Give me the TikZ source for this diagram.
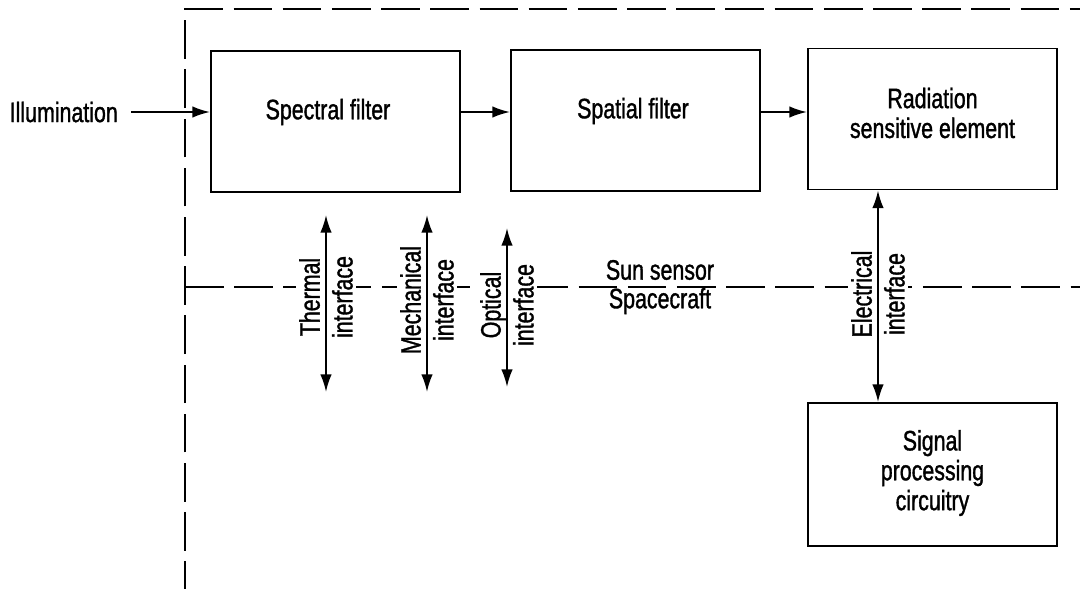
\documentclass[tikz,border=0pt]{standalone}
\usepackage{fontspec}
\setmainfont{Liberation Sans}[FakeStretch=0.76, FakeBold=1.2]
\usetikzlibrary{arrows.meta,positioning,calc}

\begin{document}
\begin{tikzpicture}[x=0.02cm, y=-0.02cm,
  box/.style={rectangle, draw, line width=1.1pt, minimum width=249*0.02cm, minimum height=141*0.02cm, inner sep=0pt},
  txt/.style={align=center, font=\fontsize{16}{17}\selectfont},
  iface/.style={txt, rotate=90, fill=white, inner sep=2pt, font=\fontsize{16}{18.7}\selectfont},
  bound/.style={line width=1.1pt, dash pattern=on 22pt off 6pt},
  arr/.style={-{Latex[length=10pt,width=6.5pt]}, line width=1.1pt},
  dbl/.style={{Latex[length=10pt,width=6.5pt]}-{Latex[length=10pt,width=6.5pt]}, line width=1.1pt}
]
  \useasboundingbox (0,0) rectangle (1080,589);

  % sensor / spacecraft boundary
  \draw[bound] (185,600) -- (185,9) -- (1080,9);
  \draw[bound] (185,287) -- (1080,287);

  % blocks
  \node[box] (spec) at (335.5,121.5) {};
  \node[box] (spat) at (635.5,120.5) {};
  \node[box] (rad) at (932.5,119) {};
  \node[box, minimum height=143*0.02cm] (sig) at (932.5,474.5) {};

  \node[txt] (spectxt) at (328,112) {Spectral filter};
  \node[txt] (spattxt) at (633,111) {Spatial filter};
  \node[txt] (radtxt) at (932.5,113) {Radiation\\sensitive element};
  \node[txt] (sigtxt) at (932.5,473) {Signal\\processing\\circuitry};

  \node[txt, anchor=east] (illum) at (124,112) {Illumination};

  % interfaces
  \node[iface] (therm) at (326,297) {Thermal\\interface};
  \node[iface] (mech) at (427,300) {Mechanical\\interface};
  \node[iface] (opt) at (507,305) {Optical\\interface};
  \node[iface] (elec) at (878,294) {Electrical\\interface};

  \node[txt] (sun) at (660,270) {Sun sensor};
  \node[txt] (craft) at (660,301) {Spacecraft};

  % signal path
  \draw[arr] ([xshift=4pt]illum.east) -- (illum -| spec.west);
  \draw[arr] (illum -| spec.east) -- (illum -| spat.west);
  \draw[arr] (illum -| spat.east) -- (illum -| rad.west);

  \draw[dbl] (326,215) coordinate (thermtop) -- (326,392) coordinate (thermbot);
  \draw[dbl] (427,215) coordinate (mechtop) -- (427,392) coordinate (mechbot);
  \draw[dbl] (507,228) coordinate (opttop) -- (507,387) coordinate (optbot);
  \draw[dbl] (rad.south -| elec) -- (sig.north -| elec);
\end{tikzpicture}
\end{document}
